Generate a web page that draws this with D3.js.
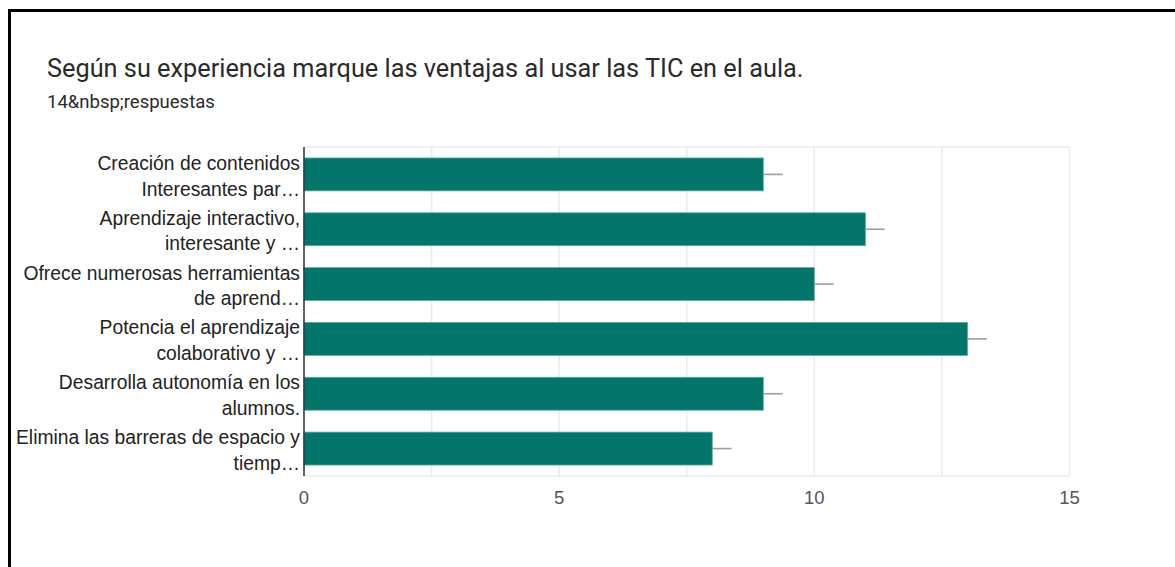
<!DOCTYPE html>
<html>
<head>
<meta charset="utf-8">
<script src="https://d3js.org/d3.v7.min.js"></script>
<style>
	body { margin: 0; background: #fff; }
	svg { display: block; }
</style>
</head>
<body>
<script>
// Chart data
const labelLines = [
	['Creación de contenidos', 'Interesantes par…'],
	['Aprendizaje interactivo,', 'interesante y …'],
	['Ofrece numerosas herramientas', 'de aprend…'],
	['Potencia el aprendizaje', 'colaborativo y …'],
	['Desarrolla autonomía en los', 'alumnos.'],
	['Elimina las barreras de espacio y', 'tiemp…']
];
const counts = [9, 11, 10, 13, 9, 8];
const whiskers = [0.38, 0.38, 0.38, 0.38, 0.38, 0.38];
const xTicks = [0, 5, 10, 15];
const xMinorTicks = [2.5, 7.5, 12.5];

const width = 1175, height = 567;
const svg = d3.select('body').append('svg')
	.attr('width', width)
	.attr('height', height);

// Screenshot frame
svg.append('rect')
	.attr('x', 9.5).attr('y', 10.5)
	.attr('width', 1200).attr('height', 600)
	.attr('fill', 'none')
	.attr('stroke', '#000')
	.attr('stroke-width', 3);

// Titles
svg.append('text')
	.attr('x', 47).attr('y', 77)
	.attr('font-family', 'Roboto, sans-serif')
	.attr('font-size', 25.3)
	.attr('fill', '#2a2a2a')
	.text('Según su experiencia marque las ventajas al usar las TIC en el aula.');

svg.append('text')
	.attr('x', 47).attr('y', 108)
	.attr('font-family', 'Roboto, sans-serif')
	.attr('font-size', 18.5)
	.attr('fill', '#2a2a2a')
	.text('14&nbsp;respuestas');

// Scales
const plot = { left: 304, right: 1069.5, top: 147, bottom: 476 };
const x = d3.scaleLinear().domain([0, 15]).range([plot.left, plot.right]);
const y = d3.scaleBand()
	.domain(d3.range(counts.length))
	.range([plot.top, plot.bottom])
	.paddingInner(0.4)
	.paddingOuter(0.2);

// Gridlines
svg.append('g')
	.selectAll('line')
	.data(xTicks.concat(xMinorTicks))
	.join('line')
	.attr('x1', d => x(d)).attr('x2', d => x(d))
	.attr('y1', plot.top).attr('y2', plot.bottom)
	.attr('stroke', '#ebebeb')
	.attr('stroke-width', 1.5);

svg.append('line')
	.attr('x1', plot.left).attr('x2', plot.right)
	.attr('y1', plot.top).attr('y2', plot.top)
	.attr('stroke', '#ebebeb').attr('stroke-width', 1.5);
svg.append('line')
	.attr('x1', plot.left).attr('x2', plot.right)
	.attr('y1', plot.bottom).attr('y2', plot.bottom)
	.attr('stroke', '#ebebeb').attr('stroke-width', 1.5);

// Bars
svg.append('g')
	.selectAll('rect')
	.data(counts)
	.join('rect')
	.attr('x', x(0))
	.attr('y', (d, i) => y(i))
	.attr('width', d => x(d) - x(0))
	.attr('height', y.bandwidth())
	.attr('fill', '#04756a')
	.attr('stroke', '#5aa89f')
	.attr('stroke-width', 0.8);

// Whiskers
svg.append('g')
	.selectAll('line')
	.data(counts)
	.join('line')
	.attr('x1', d => x(d))
	.attr('x2', (d, i) => x(d + whiskers[i]))
	.attr('y1', (d, i) => y(i) + y.bandwidth() / 2)
	.attr('y2', (d, i) => y(i) + y.bandwidth() / 2)
	.attr('stroke', '#9e9e9e')
	.attr('stroke-width', 1.6);

// Baseline
svg.append('line')
	.attr('x1', x(0)).attr('x2', x(0))
	.attr('y1', plot.top).attr('y2', plot.bottom)
	.attr('stroke', '#333')
	.attr('stroke-width', 1.5);

// Category labels
const labels = svg.append('g')
	.selectAll('text')
	.data(labelLines)
	.join('text')
	.attr('text-anchor', 'end')
	.attr('font-family', 'Arial, "Liberation Sans", sans-serif')
	.attr('font-size', 19.3)
	.attr('fill', '#222');

labels.selectAll('tspan')
	.data((d, i) => d.map((line, j) => ({ line, j, i })))
	.join('tspan')
	.attr('x', 300)
	.attr('y', d => y(d.i) + y.bandwidth() / 2 - 4.5 + d.j * 25.7)
	.text(d => d.line);

// X tick labels
svg.append('g')
	.selectAll('text')
	.data(xTicks)
	.join('text')
	.attr('x', d => x(d))
	.attr('y', 504)
	.attr('text-anchor', 'middle')
	.attr('font-family', 'Arial, "Liberation Sans", sans-serif')
	.attr('font-size', 18.5)
	.attr('fill', '#555')
	.text(d => d);
</script>
</body>
</html>
